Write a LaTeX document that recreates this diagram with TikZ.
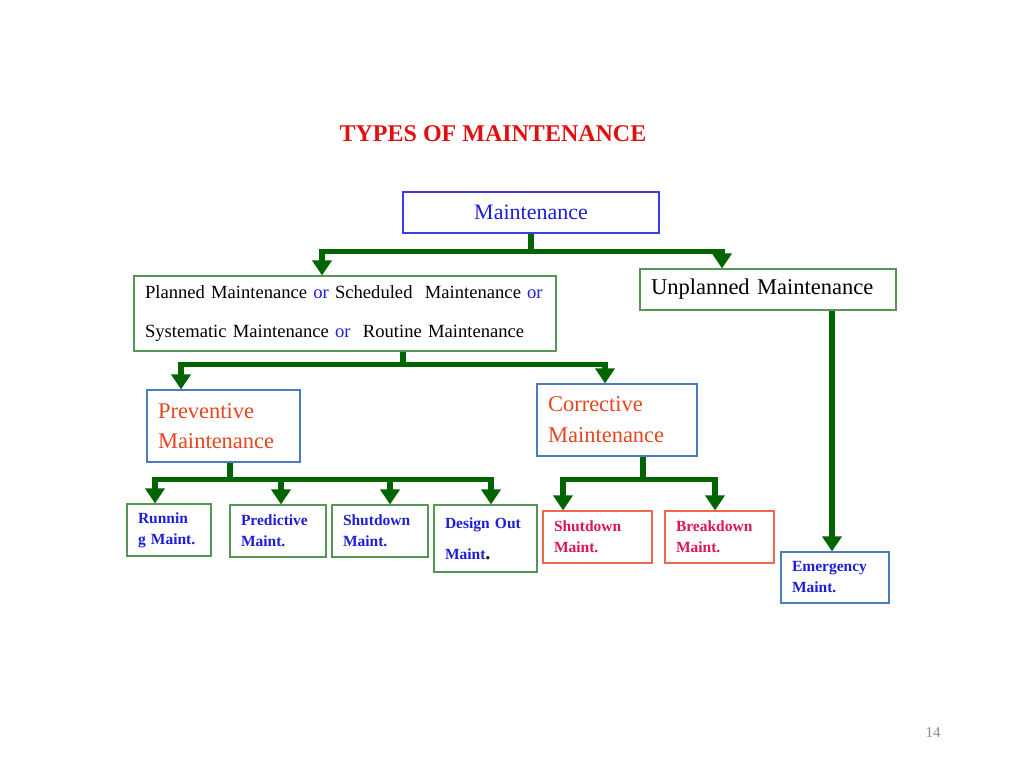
\documentclass[tikz,border=0pt]{standalone}
\usepackage{fontspec}
\setmainfont{Liberation Serif}
\usetikzlibrary{arrows.meta}
\definecolor{ttlred}{RGB}{225,15,15}
\definecolor{txtblue}{RGB}{30,30,215}
\definecolor{mbord}{RGB}{60,60,230}
\definecolor{gbord}{RGB}{85,150,85}
\definecolor{bbord}{RGB}{75,125,190}
\definecolor{obord}{RGB}{238,105,75}
\definecolor{orgtxt}{RGB}{230,70,30}
\definecolor{pinktxt}{RGB}{220,20,90}
\definecolor{arrgreen}{RGB}{0,100,0}
\definecolor{pgray}{RGB}{140,140,140}
\tikzset{
  box/.style={draw, line width=1.2pt, inner xsep=11pt, inner ysep=0pt, align=left, anchor=center},
  conn/.style={draw=arrgreen, line width=5.5pt, -{Triangle[width=19pt,length=15pt]}},
  small/.style={box, font=\fontsize{15.5}{21}\selectfont\bfseries, text=txtblue},
}
\begin{document}
\begin{tikzpicture}[x=1pt,y=-1pt]
\useasboundingbox (0,0) rectangle (1024,768);
\node[font=\fontsize{24}{28}\selectfont\bfseries, text=ttlred] (title) at (493,134) {TYPES OF MAINTENANCE};
\node[draw=mbord, line width=1.2pt, minimum width=256pt, minimum height=41pt, inner sep=0pt, text=txtblue, font=\fontsize{22}{26}\selectfont] (m) at (531,212.5) {Maintenance};
\node[box, draw=gbord, text width=400pt, minimum height=75pt, font=\fontsize{18.6}{39}\selectfont] (pm) at (345,313.5)
  {\mbox{Planned Maintenance \textcolor{txtblue}{or} Scheduled\ \ Maintenance \textcolor{txtblue}{or}}\\
   \mbox{Systematic Maintenance \textcolor{txtblue}{or}\ \ Routine Maintenance}};
\node[box, draw=gbord, text width=234pt, minimum height=41pt, font=\fontsize{22.5}{26}\selectfont] (um) at (768,289.5) {\mbox{Unplanned Maintenance}};
\node[box, draw=bbord, text width=131pt, minimum height=72pt, text=orgtxt, font=\fontsize{22.5}{30}\selectfont] (pv) at (223.5,426) {Preventive\\Maintenance};
\node[box, draw=bbord, text width=138pt, minimum height=72pt, text=orgtxt, font=\fontsize{22.5}{31}\selectfont] (cv) at (617,420) {Corrective\\Maintenance};
\node[small, draw=gbord, text width=62pt, minimum height=52pt] (rn) at (169,530) {\mbox{Runnin}\\\mbox{g Maint.}};
\node[small, draw=gbord, text width=74pt, minimum height=52pt] (pd) at (278,531) {\mbox{Predictive}\\Maint.};
\node[small, draw=gbord, text width=74pt, minimum height=52pt] (sd) at (380,531) {\mbox{Shutdown}\\Maint.};
\node[small, draw=gbord, text width=81pt, minimum height=67pt, font=\fontsize{15.5}{31}\selectfont\bfseries] (do) at (485.5,538.5) {\mbox{Design Out}\\Maint\textcolor{black}{\fontsize{20}{31}\selectfont.}};
\node[small, draw=obord, text=pinktxt, text width=87pt, minimum height=52pt] (sc) at (597.5,537) {\mbox{Shutdown}\\Maint.};
\node[small, draw=obord, text=pinktxt, text width=87pt, minimum height=52pt] (bd) at (719.5,537) {\mbox{Breakdown}\\Maint.};
\node[small, draw=bbord, text width=86pt, minimum height=51pt] (em) at (835,577.5) {\mbox{Emergency}\\Maint.};
\node[text=pgray, font=\fontsize{15}{18}\selectfont] (pg) at (933,733) {14};
% connectors
\draw[conn] (m.south) -- ++(0,18) -| ([xshift=-23pt]pm.north);
\draw[conn] (m.south) -- ++(0,18) -| ([xshift=-46pt]um.north);
\draw[conn] ([xshift=58pt]pm.south) -- ++(0,13) -| ([xshift=-42.5pt]pv.north);
\draw[conn] ([xshift=58pt]pm.south) -- ++(0,13) -| ([xshift=-12pt]cv.north);
\draw[conn] ([xshift=6.5pt]pv.south) -- ++(0,17) -| ([xshift=-14pt]rn.north);
\draw[conn] ([xshift=6.5pt]pv.south) -- ++(0,17) -| ([xshift=3pt]pd.north);
\draw[conn] ([xshift=6.5pt]pv.south) -- ++(0,17) -| ([xshift=10pt]sd.north);
\draw[conn] ([xshift=6.5pt]pv.south) -- ++(0,17) -| ([xshift=5.5pt]do.north);
\draw[conn] ([xshift=26pt]cv.south) -- ++(0,23) -| ([xshift=-34.5pt]sc.north);
\draw[conn] ([xshift=26pt]cv.south) -- ++(0,23) -| ([xshift=-4.5pt]bd.north);
\draw[conn] ([xshift=64pt]um.south) -- ([xshift=-3pt]em.north);
\end{tikzpicture}
\end{document}
